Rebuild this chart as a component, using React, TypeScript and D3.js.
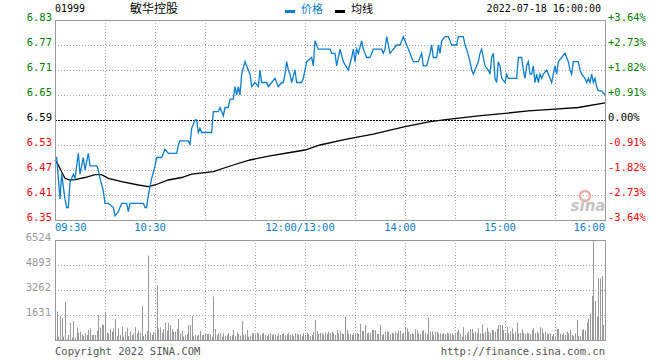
import React from 'react';
import * as d3 from 'd3';

// ---- data ----
const stockCode = '01999';
const stockName = '敏华控股';
const dateText = '2022-07-18 16:00:00';
const prevClose = 6.59;

const priceTicks = [6.83, 6.77, 6.71, 6.65, 6.59, 6.53, 6.47, 6.41, 6.35];
const volTicks = [6524, 4893, 3262, 1631];
const timeTicks = [0, 60, 150, 210, 270, 330];
const timeLabels = ['09:30', '10:30', '12:00/13:00', '14:00', '15:00', '16:00'];

// [minute since open, price]
const pricePoints: [number, number][] = [
  [0, 6.50], [1, 6.50], [3, 6.40], [4, 6.46], [6, 6.40], [7, 6.38], [8, 6.38], [9, 6.44],
  [11, 6.46], [12, 6.45], [14, 6.51], [15, 6.46], [17, 6.50], [18, 6.47], [20, 6.51], [21, 6.48],
  [25, 6.48], [26, 6.47], [27, 6.45], [29, 6.42], [30, 6.39], [32, 6.39], [35, 6.38], [36, 6.36],
  [38, 6.37], [40, 6.39], [43, 6.39], [44, 6.37], [45, 6.39], [53, 6.39], [54, 6.38], [55, 6.38],
  [56, 6.41], [57, 6.43], [58, 6.45], [60, 6.48], [61, 6.50], [64, 6.50], [66, 6.52], [68, 6.51],
  [73, 6.51], [74, 6.53], [75, 6.54], [80, 6.54], [81, 6.53], [82, 6.57], [84, 6.59], [85, 6.59],
  [86, 6.56], [87, 6.57], [88, 6.56], [94, 6.56], [95, 6.61], [98, 6.61], [99, 6.62], [101, 6.60],
  [102, 6.62], [104, 6.62], [105, 6.64], [107, 6.64], [108, 6.67], [109, 6.65], [110, 6.67], [111, 6.65],
  [112, 6.70], [114, 6.73], [116, 6.71], [117, 6.70], [118, 6.67], [120, 6.68], [122, 6.67], [123, 6.71],
  [124, 6.68], [127, 6.68], [128, 6.67], [130, 6.68], [132, 6.69], [134, 6.67], [136, 6.68], [137, 6.68],
  [138, 6.70], [139, 6.73], [140, 6.71], [141, 6.70], [142, 6.68], [144, 6.71], [145, 6.68], [148, 6.68],
  [149, 6.69], [151, 6.73], [154, 6.74], [155, 6.72], [156, 6.78], [158, 6.76], [160, 6.76], [165, 6.76],
  [166, 6.75], [168, 6.75], [169, 6.72], [171, 6.76], [173, 6.73], [176, 6.71], [178, 6.74], [179, 6.76],
  [180, 6.73], [181, 6.76], [182, 6.75], [184, 6.78], [185, 6.76], [187, 6.74], [189, 6.74], [191, 6.76],
  [196, 6.76], [197, 6.75], [198, 6.76], [199, 6.79], [201, 6.75], [203, 6.76], [205, 6.77], [207, 6.77],
  [209, 6.79], [211, 6.77], [213, 6.75], [215, 6.73], [218, 6.73], [220, 6.75], [221, 6.72], [223, 6.72],
  [225, 6.75], [226, 6.77], [227, 6.74], [229, 6.74], [230, 6.77], [231, 6.75], [232, 6.78], [234, 6.79],
  [236, 6.79], [237, 6.78], [238, 6.77], [241, 6.77], [242, 6.79], [245, 6.79], [246, 6.77], [247, 6.76],
  [249, 6.73], [250, 6.71], [251, 6.70], [252, 6.71], [254, 6.73], [255, 6.75], [256, 6.76], [257, 6.74],
  [258, 6.72], [260, 6.71], [261, 6.70], [262, 6.74], [263, 6.75], [264, 6.69], [265, 6.68], [266, 6.73],
  [267, 6.72], [268, 6.69], [270, 6.68], [271, 6.70], [272, 6.69], [277, 6.69], [278, 6.74], [280, 6.74],
  [281, 6.71], [282, 6.69], [283, 6.72], [284, 6.73], [285, 6.70], [286, 6.70], [287, 6.72], [288, 6.68],
  [289, 6.70], [290, 6.68], [291, 6.70], [292, 6.69], [293, 6.70], [295, 6.71], [297, 6.69], [298, 6.68],
  [299, 6.70], [300, 6.72], [301, 6.70], [302, 6.73], [304, 6.74], [306, 6.75], [308, 6.73], [309, 6.71],
  [310, 6.70], [311, 6.73], [314, 6.73], [315, 6.71], [316, 6.70], [318, 6.69], [319, 6.68], [320, 6.69],
  [321, 6.68], [322, 6.70], [323, 6.68], [324, 6.69], [325, 6.67], [326, 6.66], [328, 6.66], [330, 6.65],
];

// [minute since open, average price]
const avgPoints: [number, number][] = [
  [0, 6.494], [2, 6.482], [4, 6.465], [6, 6.45], [9, 6.446], [12, 6.447], [18, 6.452], [24, 6.459],
  [28, 6.459], [32, 6.45], [40, 6.442], [50, 6.434], [56, 6.43], [60, 6.434], [68, 6.446], [76, 6.452],
  [82, 6.46], [95, 6.466], [107, 6.482], [117, 6.494], [129, 6.504], [141, 6.512], [150, 6.518],
  [159, 6.53], [175, 6.544], [191, 6.556], [210, 6.574], [225, 6.586], [237, 6.592], [254, 6.60],
  [270, 6.606], [284, 6.612], [300, 6.616], [314, 6.62], [330, 6.631],
];

// volume per minute, 09:30 .. 16:00
const volumes = [
  1200,
  1849, 218, 1566, 1414, 218, 2501, 44, 326, 1131, 152,
  1240, 152, 805, 479, 544, 370, 261, 435, 326, 653,
  761, 326, 326, 326, 609, 1631, 805, 1022, 979, 1827,
  479, 435, 718, 544, 761, 1370, 261, 761, 326, 870,
  218, 544, 805, 261, 544, 326, 435, 827, 435, 609,
  479, 2219, 261, 392, 587, 5503, 500, 326, 500, 500,
  3545, 761, 827, 479, 718, 1131, 609, 1131, 979, 718,
  544, 544, 718, 1370, 435, 609, 218, 326, 392, 979,
  979, 1566, 261, 326, 283, 326, 609, 326, 326, 370,
  392, 392, 370, 218, 2828, 718, 326, 435, 435, 218,
  435, 261, 326, 435, 261, 326, 653, 261, 500, 370,
  283, 1240, 326, 370, 653, 218, 283, 435, 435, 370, 500, 435,
  300, 392, 479, 326, 261, 392, 435, 326, 392, 370,
  261, 435, 326, 392, 435, 300, 392, 479, 326, 392,
  261, 435, 392, 326, 392, 261, 435, 326, 479, 392,
  261, 326, 544,
  1305,
  587, 392, 479, 435, 326, 479, 392, 544, 435,
  544, 435, 326, 653, 435, 609, 435, 392, 1523, 653,
  435, 392, 326, 435, 392, 479, 392, 1044, 587, 587,
  979, 435, 479, 479, 653, 653, 653, 392, 392, 979,
  326, 392, 544, 544, 544, 392, 479, 435, 544, 435,
  609, 609, 392, 479, 827, 761, 544, 392, 435, 392,
  696, 653, 435, 392, 587, 653, 479, 392, 1457, 544,
  587, 326, 544, 544, 435, 435, 392, 435, 392, 479,
  435, 435, 435, 326, 435, 544, 653, 435, 218, 827,
  326, 435, 544, 718, 718, 435, 544, 435, 761, 435,
  1022, 435, 544, 805, 544, 479, 653, 653, 544, 718,
  979, 979, 979, 653, 435, 870, 435, 544, 761, 392,
  544, 1131, 435, 435, 696, 435, 392, 479, 435, 392,
  653, 761, 435, 544, 435, 827, 761, 435, 544, 435,
  392, 435, 261, 392, 261, 696, 718, 392, 326, 435,
  326, 544, 435, 653, 326, 261, 435,
  1305, 261, 261, 653, 696, 653, 1131, 1414, 1740, 2871,
  6524, 2545, 1523, 4024, 4024, 4176, 979, 2219,
];

const W = 660;
const H = 360;
const L = 55;
const R = 605;
const PT = 20;
const PB = 220;
const VT = 240;
const VB = 340;

const BLUE = '#0a7ecf';
const GRID = '#aaaaaa';
const BORDER = '#999999';
const MONO = '"DejaVu Sans Mono", monospace';
const CJK = '"Noto Sans CJK SC", sans-serif';

export default function App() {
  const x = d3.scaleLinear().domain([0, 330]).range([L, R]);
  const y = d3.scaleLinear().domain([6.35, 6.83]).range([PB, PT]);
  const yV = d3.scaleLinear().domain([0, 6524]).range([VB, VT]);

  const line = d3.line<[number, number]>()
    .x(d => x(d[0]))
    .y(d => y(d[1]));

  const gridMinutes = d3.range(30, 330, 30);
  const pct = (p: number) => {
    const v = ((p - prevClose) / prevClose) * 100;
    const s = Math.abs(v).toFixed(2);
    return (v > 0.001 ? '+' : v < -0.001 ? '-' : '') + s + '%';
  };
  const tickColor = (p: number) => (p > prevClose + 1e-6 ? '#008000' : p < prevClose - 1e-6 ? '#ff0000' : '#000');

  return (
    <svg width={W} height={H} style={{ position: 'absolute', left: 0, top: 0, background: '#fff' }}>
      {/* header */}
      <text x={L} y={12} fontFamily={MONO} fontSize={10} fill="#000">{stockCode}</text>
      <text x={130} y={13} fontFamily={CJK} fontSize={12} fill="#000">{stockName}</text>
      <rect x={285} y={10} width={10} height={3} fill={BLUE} />
      <text x={301} y={13} fontFamily={CJK} fontSize={11} fill={BLUE}>价格</text>
      <rect x={335} y={10} width={10} height={3} fill="#000" />
      <text x={351} y={13} fontFamily={CJK} fontSize={11} fill="#000">均线</text>
      <text x={601} y={12} textAnchor="end" fontFamily={MONO} fontSize={10} fill="#000">{dateText}</text>

      {/* price grid */}
      {priceTicks.slice(1, -1).filter(p => p !== prevClose).map(p => (
        <line key={p} x1={L} x2={R} y1={Math.round(y(p)) + 0.5} y2={Math.round(y(p)) + 0.5}
          stroke={GRID} strokeDasharray="1,2" />
      ))}
      {gridMinutes.map(m => (
        <line key={'pv' + m} x1={Math.round(x(m)) + 0.5} x2={Math.round(x(m)) + 0.5} y1={PT} y2={PB}
          stroke={GRID} strokeDasharray="1,2" />
      ))}
      <line x1={L} x2={R} y1={Math.round(y(prevClose)) + 0.5} y2={Math.round(y(prevClose)) + 0.5}
        stroke="#000" strokeDasharray="2,1" />

      {/* watermark */}
      <circle cx={585} cy={196} r={5} fill="none" stroke="#f0a8a8" strokeWidth={2.5} />
      <text x={588} y={211} textAnchor="middle" fontFamily="'DejaVu Sans', sans-serif" fontSize={15}
        fontStyle="italic" fontWeight="bold" fill="#c4c4c4">sina</text>

      {/* lines */}
      <path d={line(avgPoints) || ''} fill="none" stroke="#000" strokeWidth={1.3} />
      <path d={line(pricePoints) || ''} fill="none" stroke={BLUE} strokeWidth={1.3} />

      <rect x={L + 0.5} y={PT + 0.5} width={R - L} height={PB - PT} fill="none" stroke={BORDER} />

      {/* price axis labels */}
      {priceTicks.map(p => (
        <g key={'pl' + p}>
          <text x={52} y={Math.round(y(p)) + 1} textAnchor="end" fontFamily={MONO} fontSize={10.5}
            fill={tickColor(p)}>{p.toFixed(2)}</text>
          <text x={608} y={Math.round(y(p)) + 1} fontFamily={MONO} fontSize={10.5}
            fill={tickColor(p)}>{pct(p)}</text>
        </g>
      ))}

      {/* time labels */}
      {timeTicks.map((m, i) => {
        const first = i === 0;
        const last = i === timeTicks.length - 1;
        return (
          <text key={'t' + m} x={first ? L : last ? R : x(m) - 5} y={231}
            textAnchor={first ? 'start' : last ? 'end' : 'middle'}
            fontFamily={MONO} fontSize={10.5} fill={BLUE}>{timeLabels[i]}</text>
        );
      })}

      {/* volume grid */}
      {volTicks.slice(1).map(v => (
        <line key={'vg' + v} x1={L} x2={R} y1={Math.round(yV(v)) + 0.5} y2={Math.round(yV(v)) + 0.5}
          stroke={GRID} strokeDasharray="1,2" />
      ))}
      {gridMinutes.map(m => (
        <line key={'vv' + m} x1={Math.round(x(m)) + 0.5} x2={Math.round(x(m)) + 0.5} y1={VT} y2={VB}
          stroke={GRID} strokeDasharray="1,2" />
      ))}

      {/* volume bars */}
      {volumes.map((v, i) => (
        <rect key={'b' + i} x={Math.round(x(i))} y={yV(v)} width={1} height={VB - yV(v)} fill="#999" />
      ))}

      <rect x={L + 0.5} y={VT + 0.5} width={R - L} height={VB - VT} fill="none" stroke={BORDER} />

      {volTicks.map(v => (
        <text key={'vl' + v} x={51} y={Math.round(yV(v)) + 1} textAnchor="end" fontFamily={MONO}
          fontSize={10.5} fill="#999">{v}</text>
      ))}

      {/* footer */}
      <text x={L} y={355} fontFamily={MONO} fontSize={10.5} fill="#555">Copyright 2022 SINA.COM</text>
      <text x={R} y={355} textAnchor="end" fontFamily={MONO} fontSize={10.5} fill="#555">http://finance.sina.com.cn</text>
    </svg>
  );
}
